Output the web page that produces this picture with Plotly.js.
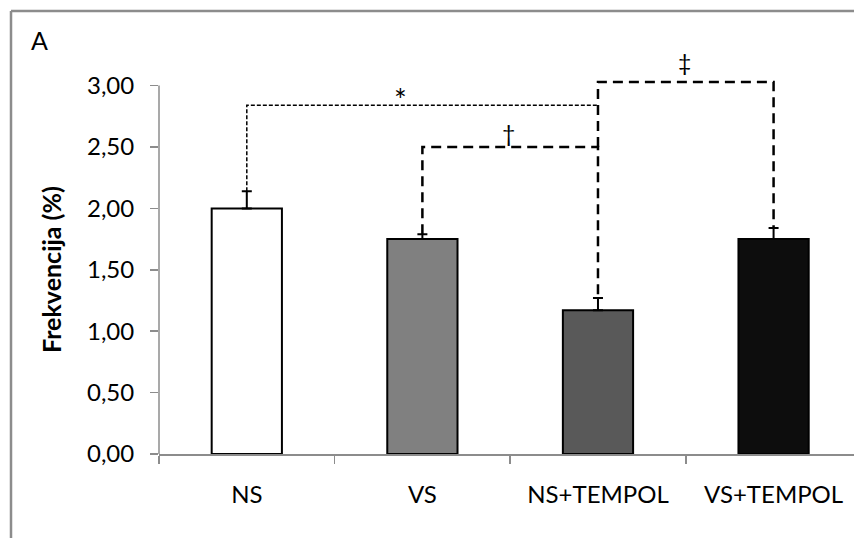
<!DOCTYPE html>
<html>
<head>
<meta charset="utf-8">
<script src="https://cdn.plot.ly/plotly-3.0.1.min.js"></script>
<style>html,body{margin:0;padding:0;background:#fff;}#chart{width:854px;height:538px;}</style>
</head>
<body>
<div id="chart"></div>
<script>
const categories = ['NS', 'VS', 'NS+TEMPOL', 'VS+TEMPOL'];
const values = [2.00, 1.75, 1.17, 1.75];
const errorsUp = [0.14, 0.04, 0.10, 0.09];
const barColors = ['#ffffff', '#808080', '#595959', '#0d0d0d'];
const yTicks = [0, 0.5, 1.0, 1.5, 2.0, 2.5, 3.0];
const yTitle = 'Frekvencija (%)';

// significance brackets (category, value)
const starX = ['NS', 'NS', 'NS+TEMPOL'];
const starY = [2.14, 2.84, 2.84];
const daggerX = ['VS', 'VS', 'NS+TEMPOL', 'NS+TEMPOL'];
const daggerY = [1.79, 2.50, 2.50, 1.27];
const ddaggerX = ['NS+TEMPOL', 'NS+TEMPOL', 'VS+TEMPOL', 'VS+TEMPOL'];
const ddaggerY = [2.50, 3.03, 3.03, 1.84];

const FONT = 'Lato, "Open Sans", sans-serif';
const PX_PER_UNIT = 122.8;      // plot scale used for layout margins
const Y_MAX = 3.2;
const topPx = 454 - Y_MAX * PX_PER_UNIT;
const plotH = 454 - topPx;

const traces = [
  {
    type: 'bar', x: categories, y: values,
    marker: {color: barColors, line: {color: '#000000', width: 2}},
    error_y: {type: 'data', symmetric: false, array: errorsUp, arrayminus: [0,0,0,0],
              color: '#000000', thickness: 2, width: 5},
    hoverinfo: 'none', showlegend: false
  },
  {type: 'scatter', mode: 'lines', x: starX, y: starY,
   line: {color: '#000000', width: 1.5, dash: '4px,2px'}, showlegend: false, hoverinfo: 'none'},
  {type: 'scatter', mode: 'lines', x: daggerX, y: daggerY,
   line: {color: '#000000', width: 2.5, dash: '10px,6px'}, showlegend: false, hoverinfo: 'none'},
  {type: 'scatter', mode: 'lines', x: ddaggerX, y: ddaggerY,
   line: {color: '#000000', width: 2.5, dash: '10px,6px'}, showlegend: false, hoverinfo: 'none'}
];

const layout = {
  width: 854, height: 538,
  margin: {l: 159, r: 0, t: topPx, b: 84, pad: 0},
  paper_bgcolor: '#ffffff', plot_bgcolor: '#ffffff',
  separators: ', ',
  font: {family: FONT, color: '#000000'},
  bargap: 0.6,
  xaxis: {
    type: 'category', range: [-0.5, 3.458], fixedrange: true,
    showline: true, linecolor: '#8c8c8c', linewidth: 1.5,
    ticks: 'outside', tickson: 'boundaries', ticklen: 8, tickcolor: '#8c8c8c', tickwidth: 1.5,
    tickfont: {family: FONT, size: 24, color: '#000000'},
    ticklabelstandoff: 19,
    showgrid: false, zeroline: false
  },
  yaxis: {
    range: [0, Y_MAX], tickmode: 'array', tickvals: yTicks, tickformat: '.2f', fixedrange: true,
    showline: false,
    ticks: 'outside', ticklen: 8, tickcolor: '#8c8c8c', tickwidth: 1.5,
    tickfont: {family: FONT, size: 24, color: '#000000'},
    ticklabelstandoff: 11,
    showgrid: false, zeroline: false
  },
  annotations: [
    {xref: 'paper', yref: 'paper', x: (51 - 159) / 695, y: (454 - 270) / plotH, text: '<b>' + yTitle + '</b>',
     textangle: -90, showarrow: false, xanchor: 'center', yanchor: 'middle',
     font: {family: FONT, size: 25, color: '#000000'}},
    {xref: 'paper', yref: 'paper', x: (29 - 159) / 695, y: (454 - 40) / plotH, text: 'A', showarrow: false,
     xanchor: 'left', yanchor: 'middle', font: {family: FONT, size: 25, color: '#000000'}},
    {xref: 'x', yref: 'y', x: 0.878, y: 2.89, text: '*', showarrow: false,
     font: {family: FONT, size: 30, color: '#000000'}},
    {xref: 'x', yref: 'y', x: 1.49, y: 2.61, text: '†', showarrow: false,
     font: {family: FONT, size: 23, color: '#000000'}},
    {xref: 'x', yref: 'y', x: 2.49, y: 3.19, text: '‡', showarrow: false,
     font: {family: FONT, size: 23, color: '#000000'}}
  ],
  shapes: [
    // y axis line from 0 to 3
    {type: 'line', xref: 'paper', yref: 'y', x0: 0, x1: 0, y0: 0, y1: 3,
     line: {color: '#8c8c8c', width: 1.5}, layer: 'below'},
    // outer frame
    {type: 'line', xref: 'paper', yref: 'paper', x0: (11 - 159) / 695, x1: (11 - 159) / 695,
     y0: (454 - 540) / plotH, y1: (454 - 11) / plotH, line: {color: '#8c8c8c', width: 2.5}},
    {type: 'line', xref: 'paper', yref: 'paper', x0: (11 - 159) / 695, x1: (856 - 159) / 695,
     y0: (454 - 11) / plotH, y1: (454 - 11) / plotH, line: {color: '#8c8c8c', width: 2.5}}
  ]
};

Plotly.newPlot('chart', traces, layout, {staticPlot: true, displayModeBar: false});
</script>
</body>
</html>
